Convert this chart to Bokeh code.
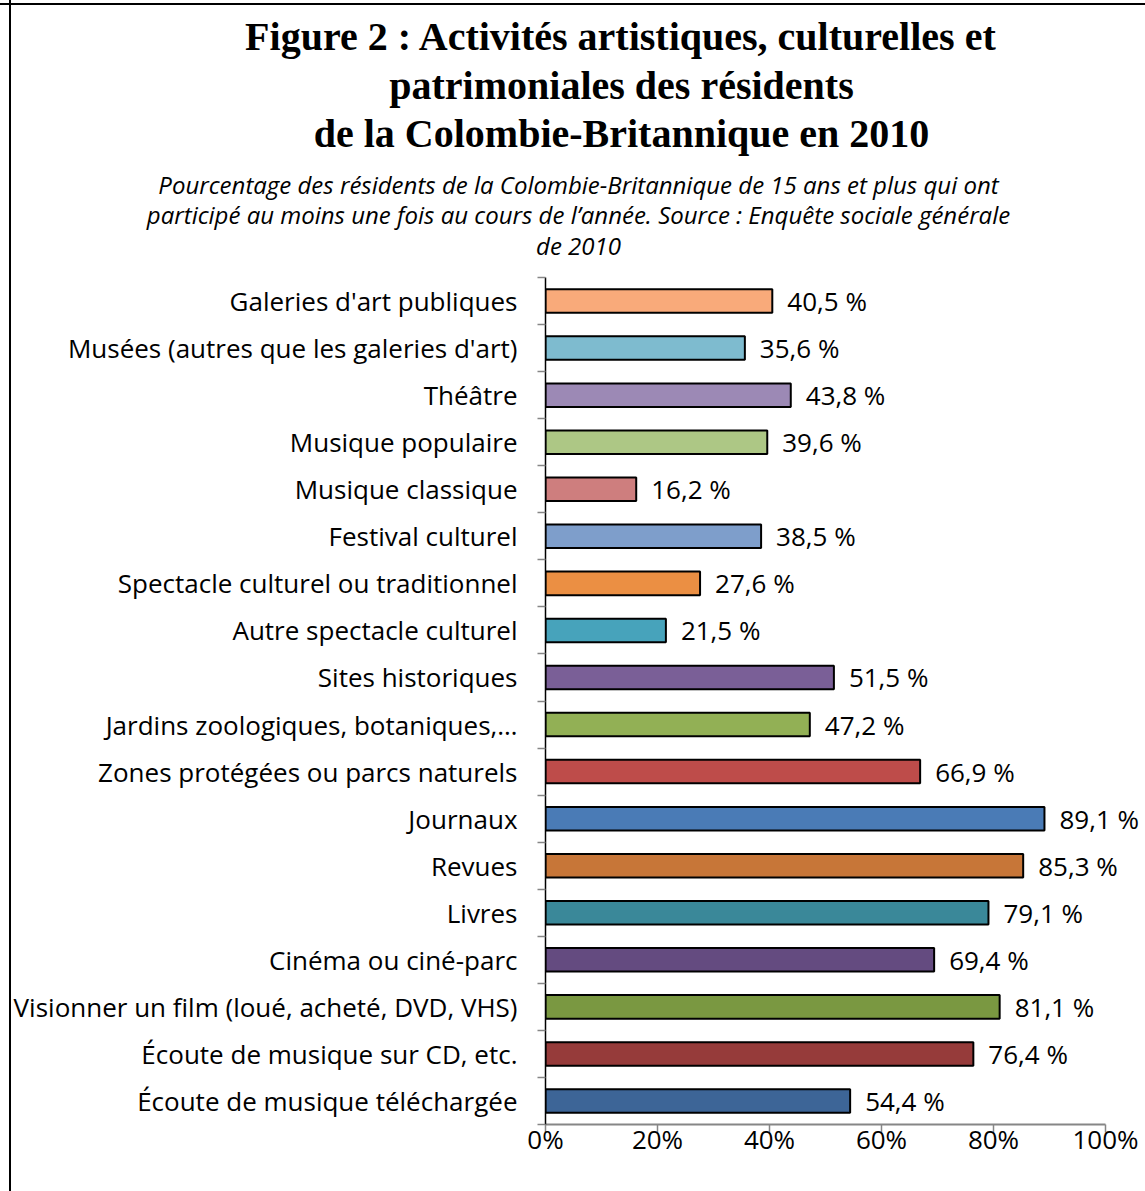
from bokeh.plotting import figure
from bokeh.layouts import column, row
from bokeh.models import (Range1d, FixedTicker, PrintfTickFormatter, ColumnDataSource,
                          LabelSet)
from bokeh.core.properties import value
from bokeh.embed import file_html
from bokeh.resources import INLINE

categories = [
    "Galeries d'art publiques",
    "Musées (autres que les galeries d'art)",
    "Théâtre",
    "Musique populaire",
    "Musique classique",
    "Festival culturel",
    "Spectacle culturel ou traditionnel",
    "Autre spectacle culturel",
    "Sites historiques",
    "Jardins zoologiques, botaniques,…",
    "Zones protégées ou parcs naturels",
    "Journaux",
    "Revues",
    "Livres",
    "Cinéma ou ciné-parc",
    "Visionner un film (loué, acheté, DVD, VHS)",
    "Écoute de musique sur CD, etc.",
    "Écoute de musique téléchargée",
]
values = [40.5, 35.6, 43.8, 39.6, 16.2, 38.5, 27.6, 21.5, 51.5, 47.2,
          66.9, 89.1, 85.3, 79.1, 69.4, 81.1, 76.4, 54.4]
colors = ["#F9AA7A", "#7EBBCF", "#9C89B5", "#ADC785", "#CE7E7E", "#7E9ECB",
          "#EB8F43", "#47A3BB", "#7A5F97", "#92B055", "#BE4C4A", "#4A7BB6",
          "#C77638", "#3A8899", "#644B80", "#7A9841", "#963B3A", "#3D6597"]
x_ticks = [0, 20, 40, 60, 80, 100]

title_lines = ["Figure 2 : Activités artistiques, culturelles et",
               "patrimoniales des résidents",
               "de la Colombie-Britannique en 2010"]
subtitle_lines = ["Pourcentage des résidents de la Colombie-Britannique de 15 ans et plus qui ont",
                  "participé au moins une fois au cours de l’année. Source : Enquête sociale générale",
                  "de 2010"]

FONT = "Open Sans"
W, H = 1145, 1191
TOP_H = 270

# ---------- header figure (title + subtitle), pixel coordinates ----------
head = figure(width=W, height=TOP_H, output_backend="svg", toolbar_location=None,
              x_range=Range1d(0, W), y_range=Range1d(TOP_H, 0),
              x_axis_location=None, y_axis_location=None,
              min_border=0)
head.xgrid.visible = False
head.ygrid.visible = False
head.outline_line_color = None
head.background_fill_color = None
head.border_fill_color = None

head.text(x=[621] * 3, y=[36, 85, 133], text=title_lines,
          text_align="center", text_baseline="middle",
          text_font=value("Liberation Serif"), text_font_style="bold",
          text_font_size="40px", text_color="black")
head.text(x=[578] * 3, y=[184, 214, 245], text=subtitle_lines,
          text_align="center", text_baseline="middle",
          text_font=value(FONT), text_font_style="italic",
          text_font_size="24px", text_color="black")

# ---------- chart figure ----------
n = len(categories)
ypos = [n - i - 0.5 for i in range(n)]
texts = [f"{v:.1f}".replace(".", ",") + " %" for v in values]

CH = H - TOP_H
FL, FR = 545, 1145
FT, FB = 277 - TOP_H, 1124 - TOP_H
px_per_unit = (1105 - 545) / 100.0

p = figure(width=W, height=CH, output_backend="svg", toolbar_location=None,
           x_range=Range1d(0, (FR - FL) / px_per_unit), y_range=Range1d(0, n),
           min_border_left=FL, min_border_right=W - FR,
           min_border_top=FT, min_border_bottom=CH - FB)
p.outline_line_color = None
p.xgrid.visible = False
p.ygrid.visible = False
p.background_fill_color = "white"
p.border_fill_color = None

src = ColumnDataSource(dict(y=ypos, v=values, c=colors, t=texts))
p.hbar(y="y", right="v", left=0, height=0.5, fill_color="c",
       line_color="black", line_width=2, source=src)

labels = LabelSet(x="v", y="y", text="t", source=src, x_offset=15,
                  text_baseline="middle", text_align="left",
                  text_font=value(FONT), text_font_size="26px", text_color="black")
p.add_layout(labels)

xa = p.xaxis[0]
xa.ticker = FixedTicker(ticks=x_ticks, minor_ticks=[])
xa.bounds = (0, 100)
xa.formatter = PrintfTickFormatter(format="%d%%")
xa.axis_line_color = "#868686"
xa.axis_line_width = 2
xa.major_tick_line_color = "#868686"
xa.major_tick_line_width = 1.5
xa.major_tick_out = 8
xa.major_tick_in = 0
xa.minor_tick_line_color = None
xa.major_label_standoff = -12
xa.major_label_text_font = FONT
xa.major_label_text_font_size = "26px"
xa.major_label_text_color = "black"

ya = p.yaxis[0]
ya.ticker = FixedTicker(ticks=ypos, minor_ticks=list(range(n + 1)))
ya.major_label_overrides = {y: c for y, c in zip(ypos, categories)}
ya.axis_line_color = "black"
ya.axis_line_width = 1.5
ya.major_tick_line_color = None
ya.major_tick_out = 0
ya.major_tick_in = 0
ya.minor_tick_line_color = "#868686"
ya.minor_tick_line_width = 1.5
ya.minor_tick_out = 8
ya.minor_tick_in = 0
ya.major_label_standoff = 20
ya.major_label_text_font = FONT
ya.major_label_text_font_size = "26px"
ya.major_label_text_color = "black"

layout = column(row(head), row(p), spacing=0)
layout.styles = {
    "background": ("linear-gradient(to bottom, transparent 3px, black 3px, black 5px, transparent 5px), "
                   "linear-gradient(to right, white 9px, black 9px, black 11px, white 11px)")
}

open("out.html", "w").write(file_html(layout, INLINE))
